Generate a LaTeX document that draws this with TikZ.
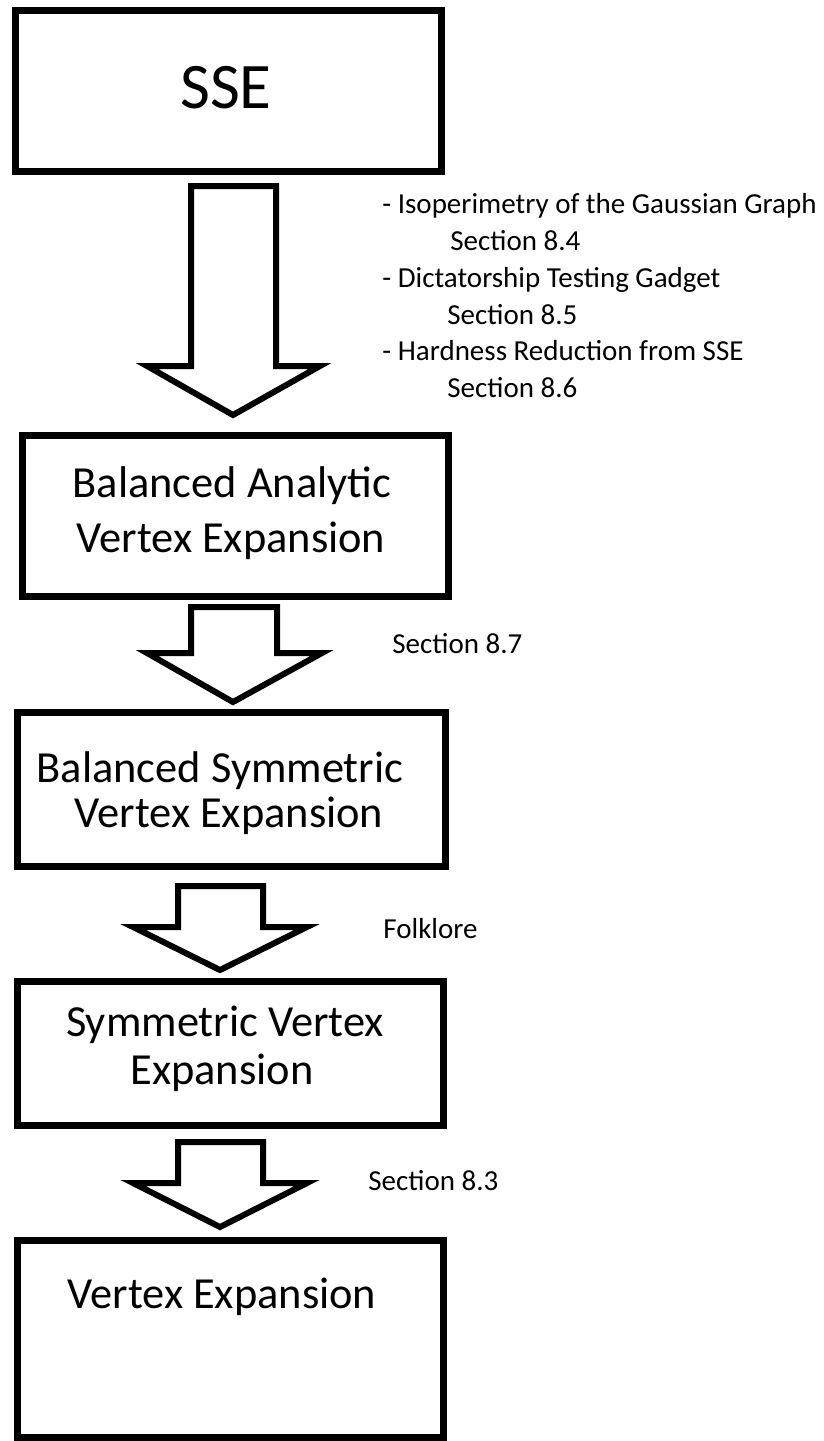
\documentclass[tikz,border=0pt]{standalone}
\usepackage{fontspec}
\setmainfont{Carlito}
\begin{document}
\begin{tikzpicture}[x=0.5pt,y=-0.5pt,
  box/.style={draw=black, line width=3.5pt, inner sep=0pt, minimum width=213pt},
  bigarrow/.style={draw=black, line width=3pt, line join=miter, fill=white},
  boxtext/.style={anchor=base, inner sep=0pt, font=\fontsize{22.2}{26}\selectfont},
  ssetext/.style={anchor=base, inner sep=0pt, font=\fontsize{32.5}{38}\selectfont},
  note/.style={anchor=base west, inner sep=0pt, font=\fontsize{14.5}{17}\selectfont}]
\useasboundingbox (0,0) rectangle (824,1441);
\fill[white] (0,0) rectangle (824,1441);

% boxes
\node[box, minimum height=80.5pt] (b1) at (228,90.5) {};
\node[box, minimum height=80.5pt] (b2) at (235,515.5) {};
\node[box, minimum height=77pt, minimum width=214pt] (b3) at (231,789) {};
\node[box, minimum height=72pt] (b4) at (230,1053) {};
\node[box, minimum height=98.5pt] (b5) at (230,1338.5) {};

% box texts
\node[ssetext] (t1) at (226,108) {SSE};
\node[boxtext] (t2a) at (232,497) {Balanced Analytic};
\node[boxtext] (t2b) at (231,552) {Vertex Expansion};
\node[boxtext] (t3a) at (220,782) {Balanced Symmetric};
\node[boxtext] (t3b) at (229,827) {Vertex Expansion};
\node[boxtext] (t4a) at (225,1036) {Symmetric Vertex};
\node[boxtext] (t4b) at (222,1084) {Expansion};
\node[boxtext] (t5) at (222,1308) {Vertex Expansion};

% block arrows
\draw[bigarrow] (191,186) -- (276,186) -- (276,366) -- (320,366) -- (233,415)
  -- (147,366) -- (191,366) -- cycle;
\draw[bigarrow] (191,607) -- (277,607) -- (277,653) -- (322,653) -- (233,702)
  -- (147,653) -- (191,653) -- cycle;
\draw[bigarrow] (178,886) -- (263,886) -- (263,927) -- (307,927) -- (220,970)
  -- (133,927) -- (178,927) -- cycle;
\draw[bigarrow] (178,1142) -- (263,1142) -- (263,1183) -- (307,1183) -- (220,1227)
  -- (133,1183) -- (178,1183) -- cycle;

% side notes
\node[note] (n1) at (382,213) {- Isoperimetry of the Gaussian Graph};
\node[note] (n2) at (450,250) {Section 8.4};
\node[note] (n3) at (382,287) {- Dictatorship Testing Gadget};
\node[note] (n4) at (447,324) {Section 8.5};
\node[note] (n5) at (382,360) {- Hardness Reduction from SSE};
\node[note] (n6) at (447,397) {Section 8.6};
\node[note] (n7) at (392,653) {Section 8.7};
\node[note] (n8) at (383,938) {Folklore};
\node[note] (n9) at (368,1190) {Section 8.3};
\end{tikzpicture}
\end{document}
